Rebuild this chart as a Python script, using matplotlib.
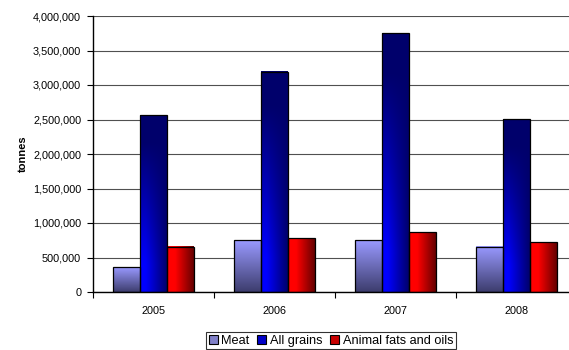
import numpy as np
import matplotlib
matplotlib.use("Agg")
import matplotlib.pyplot as plt
from matplotlib.patches import Patch
from matplotlib.ticker import FuncFormatter, MultipleLocator

plt.rcParams['font.family'] = ['Liberation Sans', 'DejaVu Sans']

years = ["2005", "2006", "2007", "2008"]
meat = [360000, 750000, 750000, 655000]
all_grains = [2565000, 3190000, 3750000, 2505000]
animal_fats = [655000, 780000, 865000, 720000]
series_names = ["Meat", "All grains", "Animal fats and oils"]

fig = plt.figure(figsize=(5.69, 3.5), dpi=100)
ax = fig.add_axes([93 / 569, 1 - 292 / 350, 484 / 569, 276 / 350])

n = 64
xn = np.linspace(0, 1, n)[None, :]
yn = np.linspace(1, 0, n)[:, None]  # row 0 = top of bar


def blend(c0, c1, t):
    c0 = np.array(c0)[None, None, :]
    c1 = np.array(c1)[None, None, :]
    return c0 + (c1 - c0) * t[..., None]


def meat_grad():
    t = np.broadcast_to(1 - yn, (n, n))
    return blend((0.60, 0.60, 1.0), (0.24, 0.24, 0.43), t)


def grain_grad():
    xh = np.clip((xn - 0.2) / 0.8, 0, 1)
    yh = np.clip((yn - 0.15) / 0.7, 0, 1)
    t = 1 - (1 - xh) * (1 - yh)
    return blend((0.0, 0.0, 1.0), (0.0, 0.0, 0.42), t)


def fat_grad():
    xh = np.clip((xn - 0.3) / 0.7, 0, 1)
    t = np.broadcast_to(xh, (n, n))
    return blend((1.0, 0.0, 0.0), (0.40, 0.0, 0.0), t)


width = 0.223
x = np.arange(len(years))
grads = [meat_grad(), grain_grad(), fat_grad()]
for i, vals in enumerate([meat, all_grains, animal_fats]):
    off = (i - 1) * width
    bars = ax.bar(x + off, vals, width=width, facecolor='none',
                  edgecolor='black', linewidth=0.9, zorder=3)
    for b, v in zip(bars, vals):
        x0 = b.get_x()
        ax.imshow(grads[i], extent=(x0, x0 + width, 0, v), aspect='auto',
                  interpolation='bilinear', zorder=2)

ax.set_xlim(-0.5, len(years) - 0.5)
ax.set_ylim(0, 4000000)
ax.yaxis.set_major_locator(MultipleLocator(500000))
ax.yaxis.set_major_formatter(FuncFormatter(lambda v, p: f"{int(v):,}"))
ax.grid(axis='y', color='#505050', linewidth=0.8, zorder=1)
ax.set_axisbelow(True)

ax.set_xticks(np.arange(-0.5, len(years) + 0.5, 1.0))
ax.set_xticklabels([])
ax.set_xticks(x, minor=True)
ax.set_xticklabels(years, minor=True)
ax.tick_params(axis='x', which='major', length=4, direction='out', width=0.8)
ax.tick_params(axis='x', which='minor', length=0, pad=10, labelsize=7.8)
ax.tick_params(axis='y', length=4, width=0.8, labelsize=7.8, pad=4.5)

for s in ['top', 'right']:
    ax.spines[s].set_visible(False)
ax.spines['left'].set_linewidth(1.0)
ax.spines['bottom'].set_linewidth(1.0)

ax.set_ylabel("tonnes", fontsize=8, fontweight='bold', labelpad=4)

handles = [Patch(facecolor='#8080c8', edgecolor='black', linewidth=0.8),
           Patch(facecolor='#0000c8', edgecolor='black', linewidth=0.8),
           Patch(facecolor='#c80000', edgecolor='black', linewidth=0.8)]
leg = fig.legend(handles, series_names, loc='upper left',
                 bbox_to_anchor=(206 / 569, 1 - 332 / 350),
                 bbox_transform=fig.transFigure, ncol=3, fontsize=9.2,
                 frameon=True, fancybox=False, borderaxespad=0,
                 handlelength=0.7, handleheight=0.7, handletextpad=0.3,
                 columnspacing=0.6, borderpad=0.2)
leg.get_frame().set_edgecolor('black')
leg.get_frame().set_linewidth(0.8)

fig.savefig("out.png", dpi=100)
